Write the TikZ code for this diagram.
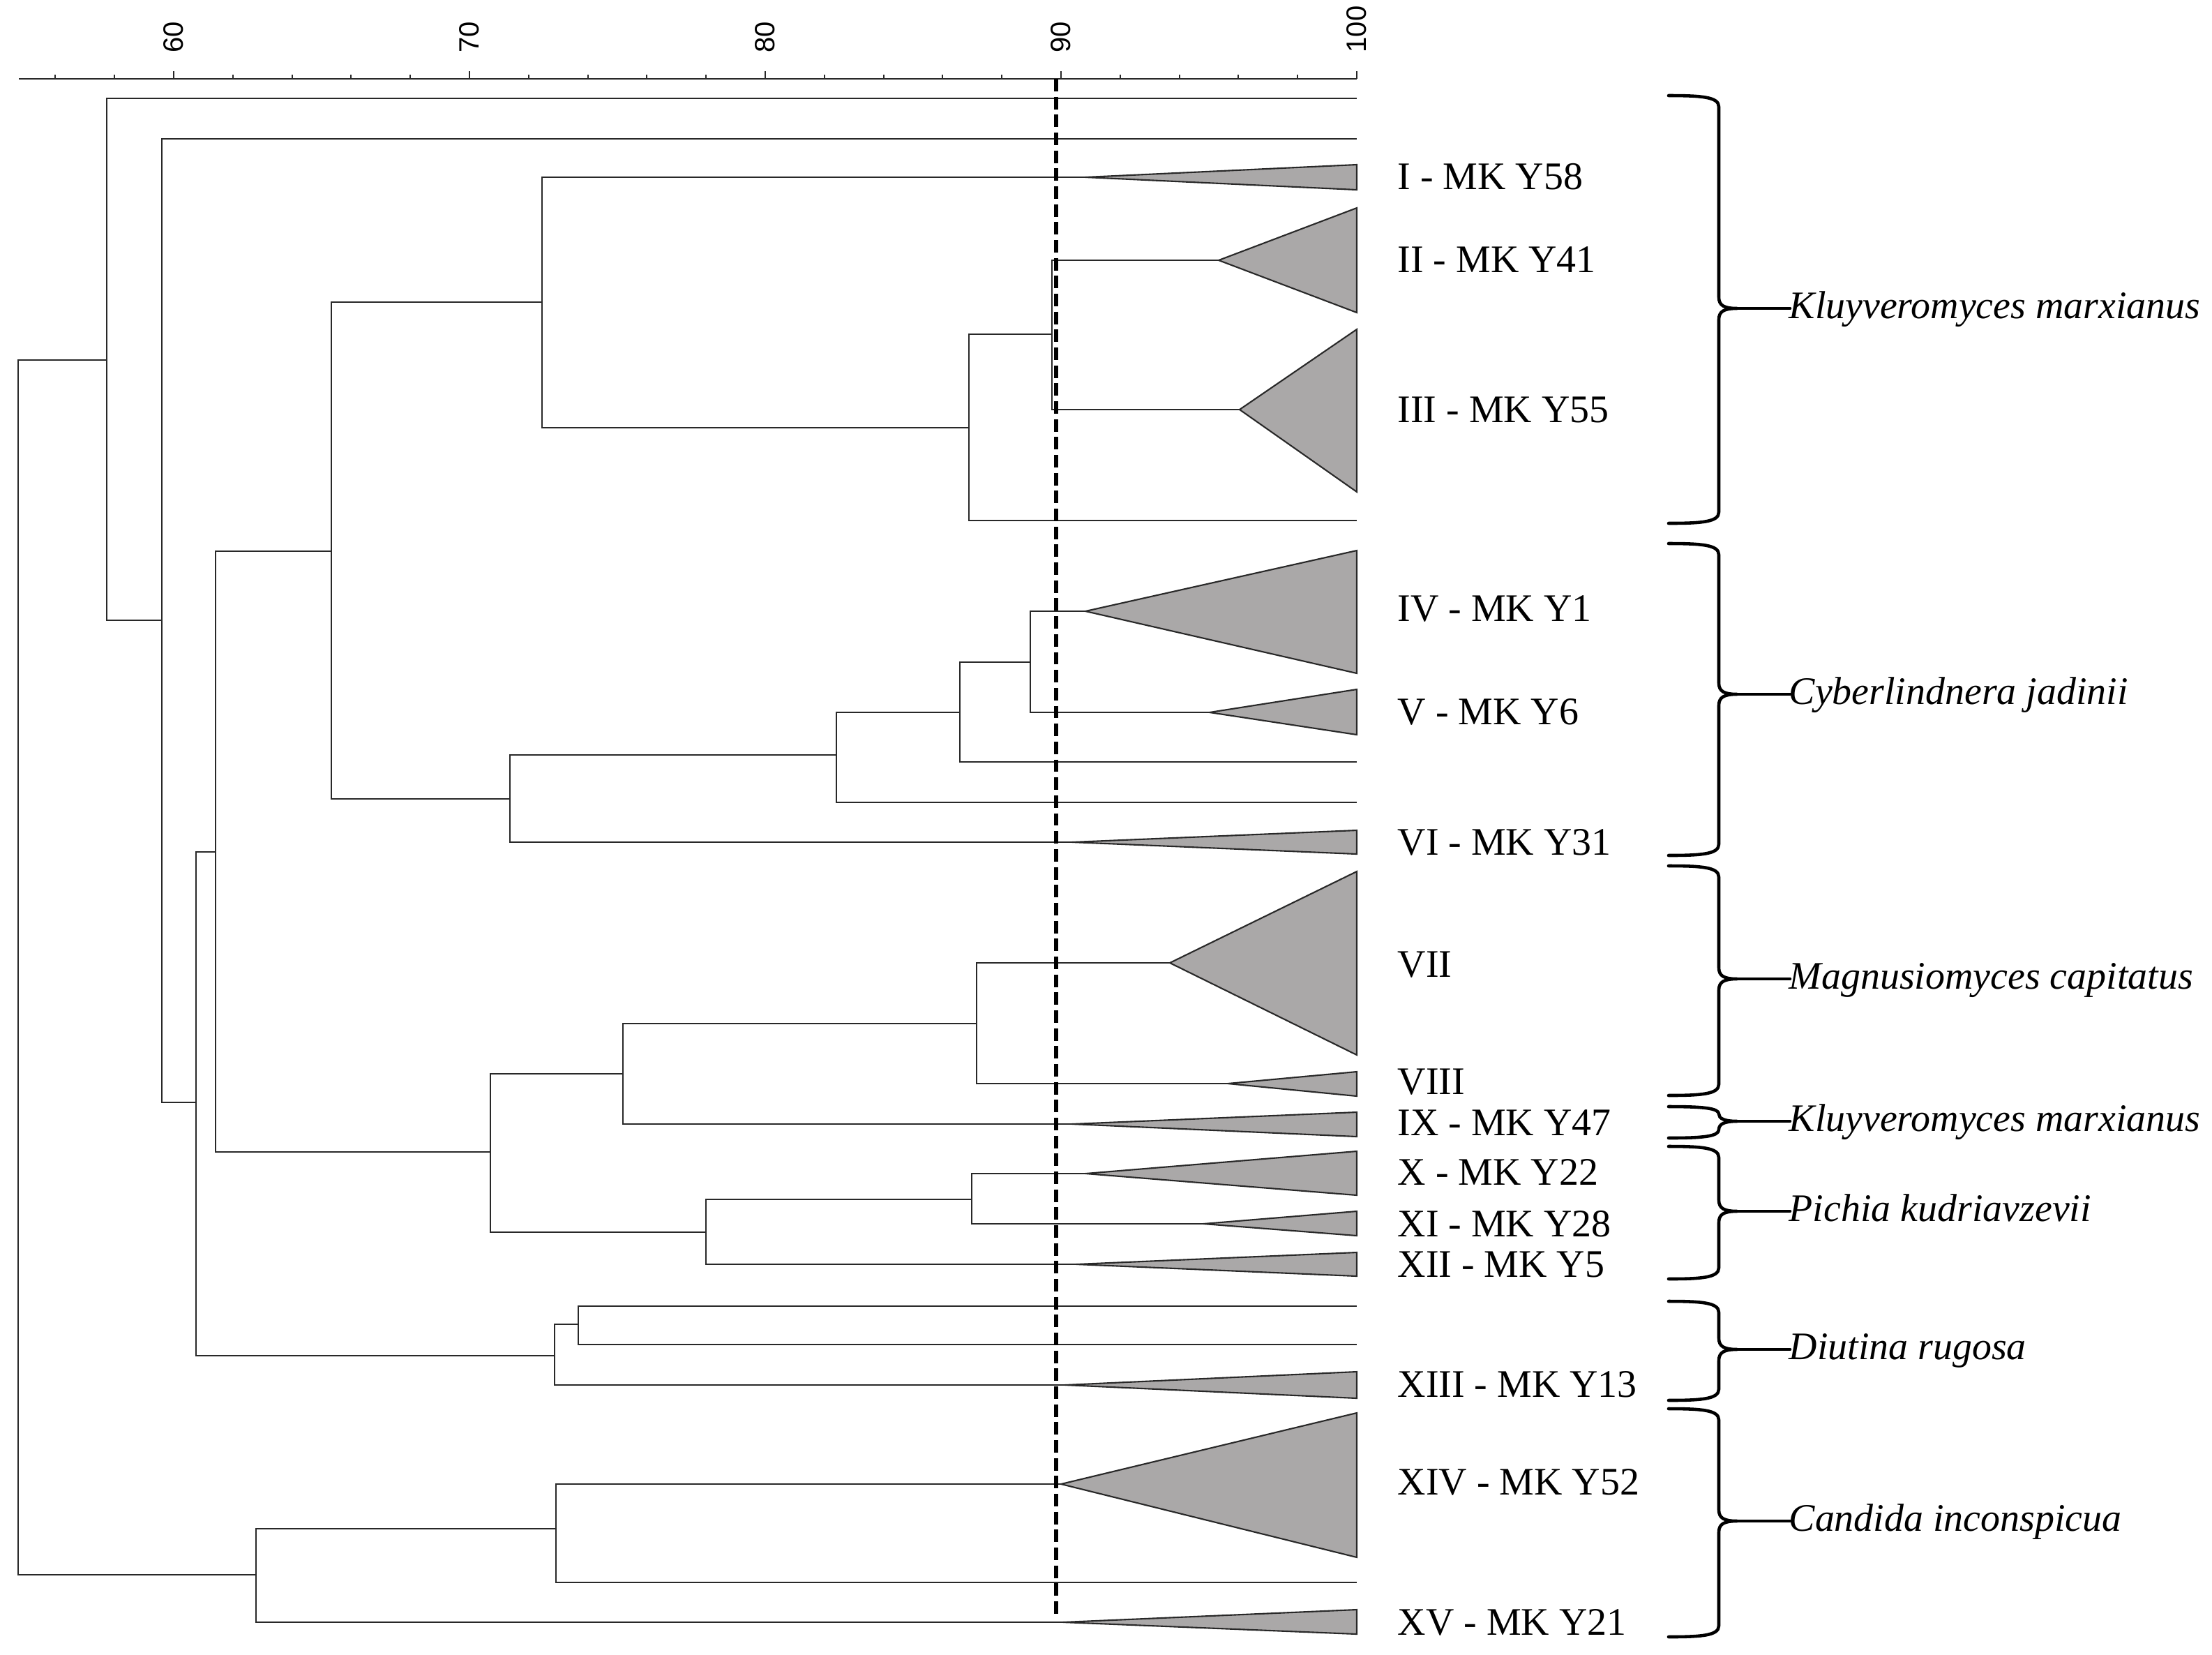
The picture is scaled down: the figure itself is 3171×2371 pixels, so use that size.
\documentclass[tikz,border=0pt]{standalone}
\usepackage{fontspec}
\setmainfont{Liberation Serif}
\newfontfamily\axisfont{Liberation Sans}
\definecolor{trigray}{RGB}{170,168,168}
\definecolor{ink}{RGB}{40,40,40}
\tikzset{
  br/.style={line width=0.6pt, draw=ink},
  tri/.style={fill=trigray, draw=ink, line width=0.6pt},
  lab/.style={anchor=base west, inner sep=0pt, font=\fontsize{15.9}{18}\selectfont},
  sp/.style={anchor=base west, inner sep=0pt, font=\fontsize{15.9}{18}\selectfont\itshape},
  axlab/.style={rotate=90, anchor=west, inner sep=0pt, font=\axisfont\fontsize{11.4}{13}\selectfont},
  cut/.style={line width=1.6pt, dash pattern=on 5.1pt off 2.2pt},
  brc/.style={line width=1.3pt, line cap=round, line join=round},
}
\begin{document}
\begin{tikzpicture}[x=0.01cm,y=-0.01cm]
\useasboundingbox (0,0) rectangle (3171,2371);

% ---- axis ----
\coordinate (axL) at (27,113);
\coordinate (axR) at (1945,113);
\draw[br] (axL) -- (axR);
\foreach \v in {56,58,...,100}{
  \pgfmathsetmacro{\xx}{249+(\v-60)*42.4}
  \pgfmathsetmacro{\tl}{ifthenelse(mod(\v,10)==0,11,6)}
  \draw[br] (\xx,113) -- (\xx,{113-\tl});
}
\foreach \v in {60,70,80,90,100}{
  \pgfmathsetmacro{\xx}{249+(\v-60)*42.4}
  \node[axlab] (ax\v) at (\xx,76) {\v};
}

% ---- internal nodes ----
\coordinate (R)   at (26,1386);
\coordinate (N1)  at (153,516);
\coordinate (N2)  at (232,889);
\coordinate (N3)  at (281,1580);
\coordinate (N4)  at (309,1221);
\coordinate (N5)  at (475,790);
\coordinate (N6)  at (777,433);
\coordinate (N7)  at (1389,613);
\coordinate (N7a) at (1508,479);
\coordinate (N8)  at (731,1145);
\coordinate (N9)  at (1199,1082);
\coordinate (N9a) at (1376,1021);
\coordinate (N9b) at (1477,949);
\coordinate (N10) at (703,1651);
\coordinate (N11) at (893,1539);
\coordinate (N12) at (1400,1467);
\coordinate (N13) at (1012,1766);
\coordinate (N14) at (1393,1719);
\coordinate (N15) at (795,1943);
\coordinate (N16) at (829,1898);
\coordinate (N17) at (367,2257);
\coordinate (N18) at (797,2191);

% ---- plain leaves ----
\coordinate (L1) at (1945,141);
\coordinate (L2) at (1945,199);
\coordinate (L3) at (1945,746);
\coordinate (L4) at (1945,1150);
\coordinate (L5) at (1945,1092);
\coordinate (L6) at (1945,1872);
\coordinate (L7) at (1945,1927);
\coordinate (L8) at (1945,2268);

% ---- collapsed clusters (triangles) ----
\newcommand{\clus}[5]{% name, apex x, apex y, top, bottom
  \coordinate (#1) at (#2,#3);
  \filldraw[tri] (#1) -- (1945,#4) -- (1945,#5) -- cycle;
}
\clus{AI}{1556}{254}{236}{272}
\clus{AII}{1747}{373}{298}{448}
\clus{AIII}{1777}{587}{472}{705}
\clus{AIV}{1556}{876}{789}{965}
\clus{AV}{1734}{1021}{988}{1053}
\clus{AVI}{1537}{1207}{1190}{1224}
\clus{AVII}{1677}{1380}{1249}{1512}
\clus{AVIII}{1760}{1553}{1536}{1571}
\clus{AIX}{1537}{1611}{1594}{1629}
\clus{AX}{1556}{1682}{1650}{1713}
\clus{AXI}{1725}{1754}{1736}{1771}
\clus{AXII}{1543}{1812}{1795}{1829}
\clus{AXIII}{1527}{1985}{1966}{2004}
\clus{AXIV}{1521}{2127}{2025}{2232}
\clus{AXV}{1524}{2325}{2307}{2342}

% ---- dendrogram branches ----
\foreach \c/\p in {N1/R,N17/R,L1/N1,N2/N1,L2/N2,N3/N2,N4/N3,N15/N3,N5/N4,N10/N4,
  N6/N5,N8/N5,AI/N6,N7/N6,N7a/N7,L3/N7,AII/N7a,AIII/N7a,N9/N8,AVI/N8,
  N9a/N9,L4/N9,N9b/N9a,L5/N9a,AIV/N9b,AV/N9b,N11/N10,N13/N10,N12/N11,AIX/N11,
  AVII/N12,AVIII/N12,N14/N13,AXII/N13,AX/N14,AXI/N14,N16/N15,AXIII/N15,
  L6/N16,L7/N16,N18/N17,AXV/N17,AXIV/N18,L8/N18}{
  \draw[br] (\c) -| (\p);
}

% ---- cut-off line ----
\coordinate (cutT) at (1514,113);
\coordinate (cutB) at (1514,2318);
\draw[cut] (cutT) -- (cutB);

% ---- cluster labels ----
\foreach \nm/\yc/\txt in {lI/253/I - MK Y58, lII/372/II - MK Y41, lIII/587/III - MK Y55,
  lIV/872/IV - MK Y1, lV/1020/V - MK Y6, lVI/1207/VI - MK Y31, lVII/1382/VII,
  lVIII/1550/VIII, lIX/1609/IX - MK Y47, lX/1680/X - MK Y22, lXI/1754/XI - MK Y28,
  lXII/1812/XII - MK Y5, lXIII/1984/XIII - MK Y13, lXIV/2124/XIV - MK Y52,
  lXV/2325/XV - MK Y21}{
  \node[lab] (\nm) at (2003,{\yc+18}) {\txt};
}

% ---- species braces ----
\foreach \ya/\yb/\ym/\nm/\txt in {137/750/442/sA/Kluyveromyces marxianus,
  779/1226/995/sB/Cyberlindnera jadinii,
  1241/1570/1403/sC/Magnusiomyces capitatus,
  1586/1631/1607/sD/Kluyveromyces marxianus,
  1643/1833/1736/sE/Pichia kudriavzevii,
  1865/2007/1934/sF/Diutina rugosa,
  2019/2346/2180/sG/Candida inconspicua}{
  \pgfmathsetmacro{\ra}{min(16,(\ym-\ya)/2)}
  \pgfmathsetmacro{\rb}{min(16,(\yb-\ym)/2)}
  \draw[brc] (2392,\ya) .. controls (2440,\ya) and (2464,{\ya+2}) .. (2464,{\ya+\ra})
    -- (2464,{\ym-\ra}) .. controls (2464,{\ym-4}) and (2472,\ym) .. (2490,\ym)
    .. controls (2472,\ym) and (2464,{\ym+4}) .. (2464,{\ym+\rb})
    -- (2464,{\yb-\rb}) .. controls (2464,{\yb-2}) and (2440,\yb) .. (2392,\yb);
  \coordinate (\nm tip) at (2490,\ym);
  \coordinate (\nm end) at (2566,\ym);
  \node[sp] (\nm) at (2564,{\ym+14}) {\txt};
  \draw[brc] (\nm tip) -- (\nm end);
}
\end{tikzpicture}
\end{document}
